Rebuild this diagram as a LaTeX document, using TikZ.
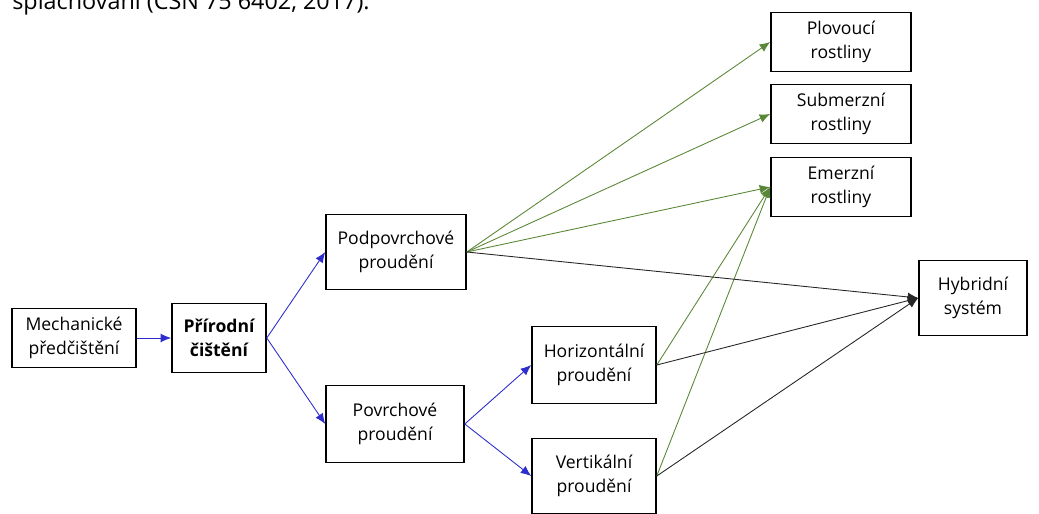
\documentclass[tikz,border=0pt]{standalone}
\usepackage{fontspec}
\setmainfont{Open Sans}
\usepackage{tikz}
\usetikzlibrary{arrows,arrows.meta,shapes,positioning}
\usepackage{xcolor}
\definecolor{flowblue}{RGB}{45,45,205}
\definecolor{flowgreen}{RGB}{90,135,55}
\tikzstyle{box} = [rectangle, minimum width=2.48cm, minimum height=1.18cm, align=center, draw=black, line width=0.9pt, fill=white, font=\fontsize{10}{13.6}\selectfont, inner sep=1pt]
\tikzstyle{arrow} = [line width=0.5pt,-{Latex[length=6pt,width=5pt]},color=flowblue]
\tikzstyle{plantarrow} = [line width=0.5pt,-{Latex[length=6pt,width=5pt]},color=flowgreen]
\tikzstyle{hybridarrow} = [line width=0.5pt,-{Latex[length=6pt,width=5pt]},color=black!85]

\begin{document}
\begin{tikzpicture}[x=0.02cm, y=-0.02cm]
\useasboundingbox (0,0) rectangle (1039,514);
% cut caption line at the top
\node[anchor=base west, inner sep=0pt, font=\fontsize{13.3}{15}\selectfont] (caption) at (12,9) {splachování (ČSN 75 6402, 2017).};

% Left part
\node[box] (mech) at (74,338) {Mechanické\\předčištění};
\node[box, minimum width=1.88cm, minimum height=1.38cm, font=\fontsize{10}{13.6}\selectfont\bfseries] (prir) at (219,338) {Přírodní\\čištění};

% Flow types
\node[box, minimum width=2.8cm, minimum height=1.5cm] (podpov) at (396,252) {Podpovrchové\\proudění};
\node[box, minimum width=2.76cm, minimum height=1.54cm] (povrch) at (395,424) {Povrchové\\proudění};
\node[box, minimum height=1.54cm] (horiz) at (594,365) {Horizontální\\proudění};
\node[box, minimum height=1.5cm] (vert) at (594,476) {Vertikální\\proudění};

% Plants
\node[box, minimum width=2.8cm] (plov) at (841,42) {Plovoucí\\rostliny};
\node[box, minimum width=2.8cm] (subm) at (841,114) {Submerzní\\rostliny};
\node[box, minimum width=2.8cm] (emer) at (841,187) {Emerzní\\rostliny};

% Hybrid
\node[box, minimum width=2.16cm, minimum height=1.5cm] (hybr) at (973,298) {Hybridní\\systém};

% Arrows
\draw[arrow] (mech) -- (prir);
\draw[arrow] (prir.east) -- (podpov.west);
\draw[arrow] (prir.east) -- (povrch.west);
\draw[arrow] (povrch.east) -- (horiz.west);
\draw[arrow] (povrch.east) -- (vert.west);
\draw[plantarrow] (podpov.east) -- (plov.west);
\draw[plantarrow] (podpov.east) -- (subm.west);
\draw[plantarrow] (podpov.east) -- (emer.west);
\draw[plantarrow] (horiz.east) -- (emer.west);
\draw[plantarrow] (vert.east) -- (emer.west);
\draw[hybridarrow] (podpov.east) -- (hybr.west);
\draw[hybridarrow] (horiz.east) -- (hybr.west);
\draw[hybridarrow] (vert.east) -- (hybr.west);
\end{tikzpicture}
\end{document}
